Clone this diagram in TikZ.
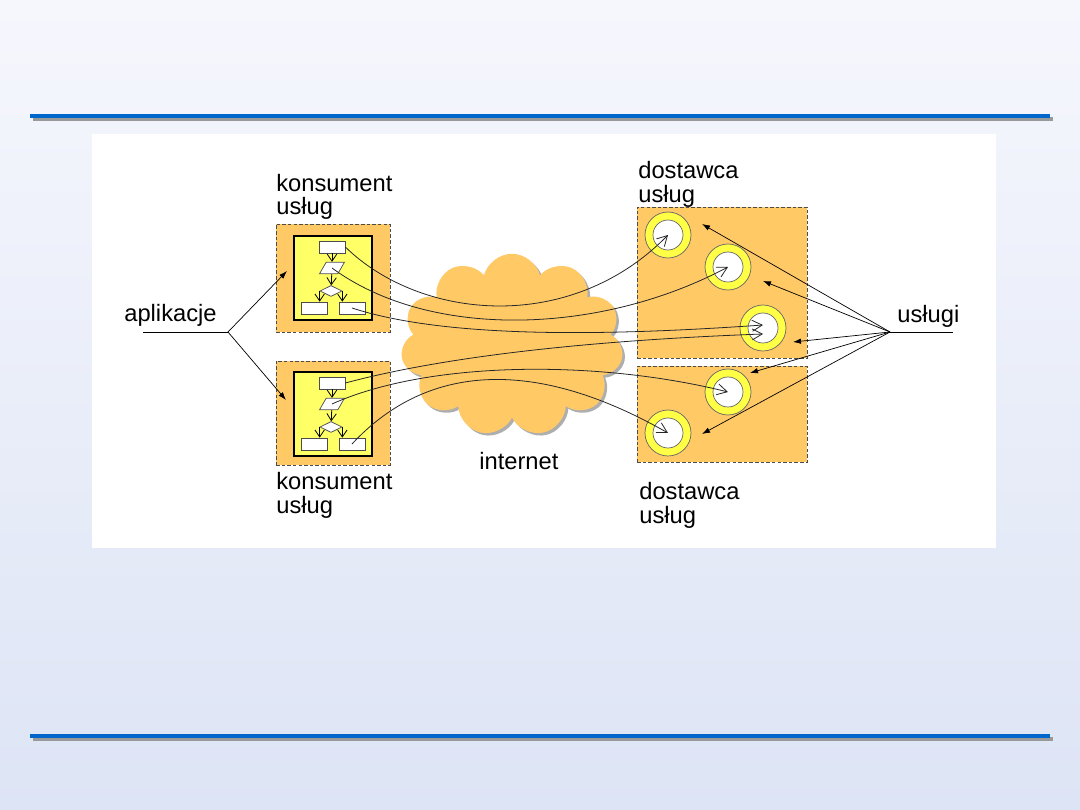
\documentclass[tikz,border=0pt]{standalone}
\usepackage{fontspec}
\setmainfont{Liberation Sans}
\usetikzlibrary{positioning, arrows.meta, shapes.geometric, shapes.symbols, shadows}

\definecolor{boxorange}{RGB}{255,201,102}
\definecolor{boxyellow}{RGB}{255,255,102}
\definecolor{ringyellow}{RGB}{255,255,70}
\definecolor{slideblue}{RGB}{0,102,204}
\definecolor{bgtop}{RGB}{246,247,253}
\definecolor{bgbottom}{RGB}{221,228,245}

\begin{document}
\begin{tikzpicture}[
        x=0.02cm, y=-0.02cm,
        font=\fontsize{13.5}{13.6}\selectfont,
        area/.style={draw=black!70, dash pattern=on 2pt off 1.2pt, fill=boxorange, line width=0.4pt},
        program/.style={draw, fill=boxyellow, line width=0.7pt, minimum width=1.56cm, minimum height=1.68cm},
        fc/.style={draw=black!70, fill=white, line width=0.4pt, inner sep=0.5pt},
        fcbox/.style={fc, rectangle, minimum width=0.52cm, minimum height=0.24cm},
        fcdata/.style={fc, trapezium, trapezium left angle=60, trapezium right angle=120, minimum width=0.5cm, minimum height=0.22cm},
        fcdec/.style={fc, diamond, aspect=2, minimum width=0.44cm, minimum height=0.22cm},
        flow/.style={-{Straight Barb[length=1.4mm, width=1.9mm]}, line width=0.45pt},
        ring/.style={circle, draw=black!60, fill=ringyellow, minimum size=0.92cm, inner sep=0pt, line width=0.4pt},
        hole/.style={circle, draw=black!60, fill=white, minimum size=0.6cm, inner sep=0pt, line width=0.4pt},
        link/.style={-{Straight Barb[length=2mm, width=2.2mm]}, line width=0.45pt, black!85},
        ptr/.style={-{Latex[length=1.6mm, width=1.1mm]}, line width=0.4pt},
        txt/.style={inner sep=0pt, align=left}
    ]
        % Slide background
        \fill[top color=bgtop, bottom color=bgbottom] (0,0) rectangle (1080,810);
        \useasboundingbox (0,0) rectangle (1080,810);
        \draw[line width=0.08cm, black!40] (33,119.5) -- (1053,119.5);
        \draw[line width=0.08cm, slideblue] (30,115.7) -- (1050,115.7);
        \draw[line width=0.08cm, black!40] (33,739.5) -- (1053,739.5);
        \draw[line width=0.08cm, slideblue] (30,735.7) -- (1050,735.7);
        \fill[white] (92,134) rectangle (996,548);

        % Consumers
        \node[area, minimum width=2.28cm, minimum height=2.16cm] (cons1) at (333,278) {};
        \node[program] (app1) at (333,278) {};
        \node[area, minimum width=2.28cm, minimum height=2.08cm] (cons2) at (333,413) {};
        \node[program] (app2) at (333,414) {};

        % Small flowcharts inside the applications
        \foreach \k/\dy in {1/0, 2/136} {
            \node[fcbox] (start\k) at (332,247+\dy) {};
            \node[fcdata] (data\k) at (332,268+\dy) {};
            \node[fcdec] (dec\k) at (331,291+\dy) {};
            \node[fcbox] (left\k) at (314,308+\dy) {};
            \node[fcbox] (right\k) at (352,308+\dy) {};
            \draw[flow] (start\k) -- (data\k);
            \draw[flow] (data\k) -- (dec\k);
            \draw[flow] (dec\k.west) -- (dec\k.west |- left\k.north);
            \draw[flow] (dec\k.east) -- (dec\k.east |- right\k.north);
        }

        % Providers
        \node[area, minimum width=3.4cm, minimum height=3.02cm] (prov1) at (722,282.5) {};
        \node[area, minimum width=3.4cm, minimum height=1.92cm] (prov2) at (722,414) {};
        \foreach \n/\sx/\sy in {1/668/235, 2/728/267, 3/763/328, 4/728/392, 5/668/433} {
            \node[ring] (srv\n) at (\sx,\sy) {};
            \node[hole] (hole\n) at (srv\n) {};
        }

        % Internet
        \node[cloud, cloud puffs=11, aspect=1.2, fill=boxorange, inner sep=0pt,
              minimum width=4.45cm, minimum height=3.65cm,
              drop shadow={shadow xshift=0.05cm, shadow yshift=-0.05cm, fill=black!45, opacity=0.7}] (net) at (512,345) {};

        % Labels
        \node[txt, anchor=north west] (consT) at (276,173.5) {konsument\\usług};
        \node[txt, anchor=north west] (consB) at (276,471.6) {konsument\\usług};
        \node[txt, anchor=north west] (provT) at (638,160.6) {dostawca\\usług};
        \node[txt, anchor=north west] (provB) at (639,481.6) {dostawca\\usług};
        \node[txt, anchor=base west] (inet) at (479,470) {internet};
        \node[txt, anchor=base west] (aplik) at (124,322) {aplikacje};
        \node[txt, anchor=base west] (uslugi) at (897,323) {usługi};

        % Applications -> consumers
        \coordinate (aplend) at (143,332);
        \coordinate (aplfork) at (228,332);
        \coordinate (in1) at (287,271);
        \coordinate (in2) at (286,400);
        \draw[line width=0.4pt] (aplend) -- (aplfork);
        \draw[ptr] (aplfork) -- (in1);
        \draw[ptr] (aplfork) -- (in2);

        % Services -> providers
        \coordinate (uslend) at (953,332);
        \coordinate (uslfork) at (890,332);
        \coordinate (out1) at (702,224);
        \coordinate (out2) at (763,281);
        \coordinate (out3) at (793,342);
        \coordinate (out4) at (750,373);
        \coordinate (out5) at (702,434);
        \draw[line width=0.4pt] (uslend) -- (uslfork);
        \foreach \n in {1,...,5}
            \draw[ptr] (uslfork) -- (out\n);

        % Calls through the internet
        \draw[link] (start1.east) .. controls (420,320) and (570,335) .. (hole1.center);
        \draw[link] (data1.center) .. controls (430,340) and (600,335) .. (hole2.center);
        \draw[link] (right1.center) .. controls (450,340) and (620,335) .. ([yshift=0.06cm]hole3.center);
        \draw[link] (start2.east) .. controls (450,355) and (600,340) .. ([yshift=-0.12cm]hole3.center);
        \draw[link] (data2.center) .. controls (430,360) and (600,360) .. (hole4.center);
        \draw[link] (right2.center) .. controls (430,360) and (540,360) .. (hole5.center);

    \end{tikzpicture}
\end{document}
